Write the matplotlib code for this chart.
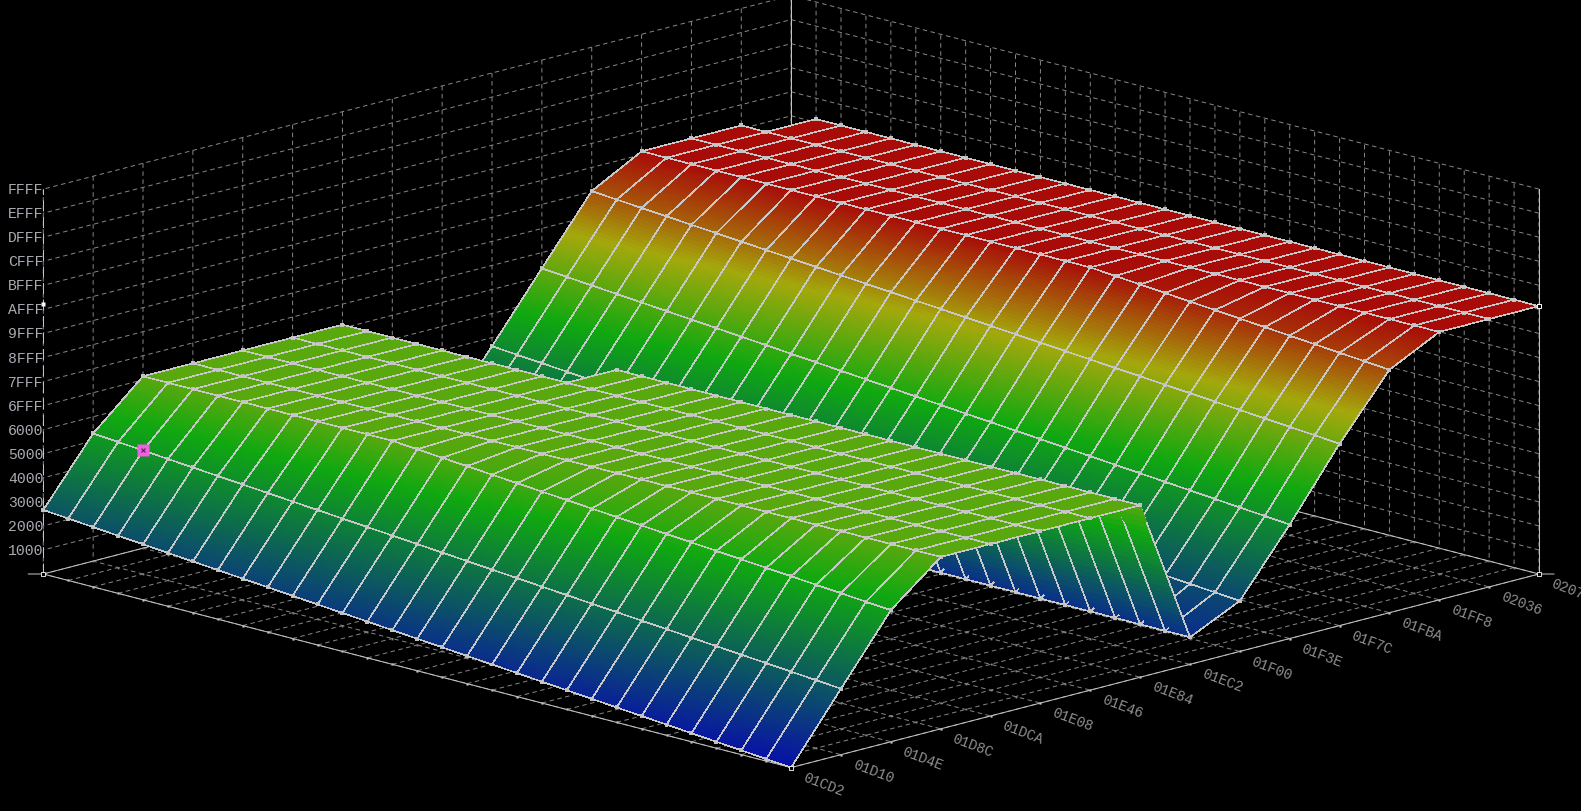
import matplotlib

matplotlib.use("Agg")

import matplotlib.pyplot as plt
import numpy as np
from matplotlib.colors import LinearSegmentedColormap, to_rgba
from mpl_toolkits.mplot3d import proj3d
from mpl_toolkits.mplot3d.art3d import Poly3DCollection

# tick labels
y_labels = ["01CD2", "01D10", "01D4E", "01D8C", "01DCA", "01E08", "01E46", "01E84",
            "01EC2", "01F00", "01F3E", "01F7C", "01FBA", "01FF8", "02036", "02074"]
z_labels = ["1000", "2000", "3000", "4000", "5000", "6000", "6FFF", "7FFF", "8FFF",
            "9FFF", "AFFF", "BFFF", "CFFF", "DFFF", "EFFF", "FFFF"]
z_ticks = [0x1000, 0x2000, 0x3000, 0x4000, 0x5000, 0x6000, 0x6FFF, 0x7FFF, 0x8FFF,
           0x9FFF, 0xAFFF, 0xBFFF, 0xCFFF, 0xDFFF, 0xEFFF, 0xFFFF]

# map values, one row per y label, 31 columns
row_00 = [10900, 10540, 10170, 9810, 9450, 9080, 8720, 8360, 7990, 7630, 7270, 6900, 6540, 6180, 5810, 5450,
          5090, 4720, 4360, 4000, 3630, 3270, 2910, 2540, 2180, 1820, 1450, 1090, 730, 360, 0]
row_01 = [21730, 21380, 21030, 20680, 20330, 19980, 19630, 19280, 18930, 18580, 18230, 17880, 17530, 17180, 16830, 16480,
          16130, 15780, 15430, 15080, 14730, 14380, 14030, 13680, 13330, 12980, 12630, 12280, 11930, 11580, 11230]
row_02 = [29270, 29270, 29270, 29270, 29270, 29270, 29270, 29270, 29270, 29270, 29270, 28930, 28580, 28240, 27900, 27550,
          27210, 26870, 26520, 26180, 25840, 25490, 25150, 24810, 24460, 24120, 23780, 23430, 23090, 22740, 22400]
row_03 = [29270] * 31
row_04 = [29270] * 31
row_05 = [29270] * 31
row_06 = [29270] * 31
row_07 = [5100] * 9 + [29270] * 22
row_08 = [8170, 7810, 7460, 7100, 6740, 6390, 6030, 5670, 5310, 4960] + [4600] * 21
row_09 = [19010, 18660, 18320, 17970, 17620, 17280, 16930, 16580, 16240, 15890, 15540, 15200, 14850, 14500, 14160, 13810,
          13460, 13120, 12770, 12420, 12080, 11730, 11380, 11040, 10690, 10340, 10000, 9650, 9300, 8960, 8610]
row_10 = [30070, 29710, 29360, 29000, 28650, 28290, 27940, 27580, 27230, 26870, 26510, 26160, 25800, 25450, 25090, 24740,
          24380, 24020, 23670, 23310, 22960, 22600, 22250, 21890, 21540, 21180, 20820, 20470, 20110, 19760, 19400]
row_11 = [41020, 40690, 40350, 40020, 39680, 39350, 39010, 38680, 38340, 38010, 37670, 37340, 37000, 36670, 36340, 36000,
          35670, 35330, 35000, 34660, 34330, 33990, 33660, 33320, 32990, 32650, 32320, 31980, 31650, 31310, 30980]
row_12 = [45610] * 19 + [45260, 44900, 44550, 44190, 43840, 43490, 43130, 42780, 42420, 42070, 41710, 41360]
row_13 = [45610] * 31
row_14 = [45610] * 31
row_15 = [23800] + [45610] * 30

cursor_col = 2
cursor_row = 1
max_marker = 45900

BLACK = "#000000"
WIRE = "#c8c8c8"
NODE = "#c0c0c0"
GRID = "#858585"
FRAME = "#c4c4c4"
CLEAR = (0, 0, 0, 0)

X_SUB = 4
Y_SUB = 24

# 1 px to the right on screen, in data units
PX_RIGHT = np.array([0.02016, 0.01, 0.0])
PX_UP = np.array([0.0, 0.0, 170.2])


def z_colormap():
    # blue - green - yellow - red, stops not evenly spaced in the original
    return LinearSegmentedColormap.from_list(
        "ecu_map",
        [(0.0, "#0810a8"), (0.519, "#10a810"), (0.763, "#a4a80c"), (1.0, "#a80808")],
    )


def refine_surface(z_map):
    # finer mesh only so the colour runs smoothly inside each cell
    xf = np.linspace(0, z_map.shape[1] - 1, (z_map.shape[1] - 1) * X_SUB + 1)
    yf = np.linspace(0, z_map.shape[0] - 1, (z_map.shape[0] - 1) * Y_SUB + 1)
    ix = np.minimum(xf.astype(int), z_map.shape[1] - 2)
    iy = np.minimum(yf.astype(int), z_map.shape[0] - 2)
    tx = xf - ix
    ty = (yf - iy)[:, None]
    near = (1 - tx) * z_map[iy][:, ix] + tx * z_map[iy][:, ix + 1]
    far = (1 - tx) * z_map[iy + 1][:, ix] + tx * z_map[iy + 1][:, ix + 1]
    return xf, yf, (1 - ty) * near + ty * far


def build_mesh(z_map):
    """Facets, wire pieces and node squares go in one collection so they get depth sorted together."""
    xf, yf, zf = refine_surface(z_map)
    xg, yg = np.meshgrid(xf, yf)
    pts = np.dstack([xg, yg, zf])

    facets = np.stack([pts[:-1, :-1], pts[:-1, 1:], pts[1:, 1:], pts[1:, :-1]], axis=2).reshape(-1, 4, 3)
    cmap = z_colormap()
    facet_colors = cmap(facets[:, :, 2].mean(axis=1) / max_marker)

    # shift towards the camera, this does not move anything on screen
    wire_shift = np.array([0.6, -0.3, 1322.0])
    node_shift = np.array([0.7, -0.35, 1543.0])

    xg0, yg0 = np.meshgrid(np.arange(z_map.shape[1]), np.arange(z_map.shape[0]))
    grid = np.dstack([xg0, yg0, z_map]) + wire_shift
    wire = []
    a, b = grid[:, :-1].reshape(-1, 3), grid[:, 1:].reshape(-1, 3)
    wire.append(np.stack([a, b, b, a], axis=1))
    a, b = grid[:-1, :].reshape(-1, 3), grid[1:, :].reshape(-1, 3)
    wire.append(np.stack([a, b, b, a], axis=1))
    wire = np.concatenate(wire)

    nodes = np.dstack([xg0, yg0, z_map]).reshape(-1, 3) + node_shift
    right = PX_RIGHT * 1.5
    up = PX_UP * 1.5
    squares = np.stack([nodes - right - up, nodes + right - up, nodes + right + up, nodes - right + up], axis=1)

    verts = np.concatenate([facets, wire, squares])
    face = np.concatenate([
        facet_colors,
        np.zeros((len(wire), 4)),
        np.tile(to_rgba(NODE), (len(squares), 1)),
    ])
    edge = np.concatenate([
        np.zeros((len(facets), 4)),
        np.tile(to_rgba(WIRE), (len(wire), 1)),
        np.zeros((len(squares), 4)),
    ])
    # thin width: the wire quads are stroked out and back, which doubles the coverage
    mesh = Poly3DCollection(verts, facecolors=face, edgecolors=edge, linewidths=0.36,
                            antialiaseds=False, zsort="average", zorder=2)
    mesh.set_clip_on(False)
    return mesh


def screen_px(ax, x, y, z):
    u, v, _ = proj3d.proj_transform(x, y, z, ax.get_proj())
    return ax.transData.transform((u, v))


def fit_axes(fig, ax, x_max, y_max):
    # the cube corners have to land on the corners measured on the reference
    width, height = fig.get_size_inches() * fig.dpi
    target_left = np.array([43.3, height - 575.7])
    target_right = np.array([1539.0, height - 574.3])

    side = 1000.0
    ax.set_position([0, 0, side / width, side / height])
    ax.apply_aspect()
    left = screen_px(ax, 0, 0, 0)
    right = screen_px(ax, x_max, y_max, 0)
    side *= (target_right[0] - target_left[0]) / (right[0] - left[0])

    ax.set_position([0, 0, side / width, side / height])
    ax.apply_aspect()
    left = screen_px(ax, 0, 0, 0)
    right = screen_px(ax, x_max, y_max, 0)
    shift = (target_left + target_right) / 2 - (left + right) / 2
    ax.set_position([shift[0] / width, shift[1] / height, side / width, side / height])
    ax.apply_aspect()


def style_axis(axis):
    axis.set_pane_color(CLEAR)
    axis.pane.set_edgecolor(CLEAR)
    axis.line.set_color(CLEAR)
    axis.set_tick_params(color=CLEAR)
    axis.set_ticklabels([])


def main():
    z_map = np.array([row_00, row_01, row_02, row_03, row_04, row_05, row_06, row_07,
                      row_08, row_09, row_10, row_11, row_12, row_13, row_14, row_15], dtype=float)
    x_max = z_map.shape[1] - 1
    y_max = z_map.shape[0] - 1
    z_max = z_ticks[-1]

    plt.rcParams["grid.color"] = GRID
    plt.rcParams["grid.linestyle"] = (0, (4.5, 3.5))
    plt.rcParams["grid.linewidth"] = 0.72
    plt.rcParams["font.family"] = ["Liberation Mono", "DejaVu Sans Mono"]

    fig = plt.figure(figsize=(15.81, 8.12), dpi=100, facecolor=BLACK)
    ax = fig.add_axes([0, 0, 1, 1], projection="3d", facecolor=BLACK)
    ax.computed_zorder = False
    ax.set_proj_type("ortho")
    ax.view_init(elev=15, azim=-45)
    ax.set_box_aspect((1058, 1058, 398.6))
    ax.set_xlim(0, x_max, view_margin=0)
    ax.set_ylim(0, y_max, view_margin=0)
    ax.set_zlim(0, z_max, view_margin=0)

    ax.set_xticks(np.arange(x_max + 1))
    ax.set_yticks(np.arange(y_max + 1))
    ax.set_zticks(z_ticks)
    for axis in (ax.xaxis, ax.yaxis, ax.zaxis):
        style_axis(axis)
    ax.grid(True)

    fit_axes(fig, ax, x_max, y_max)

    # floor frame and uprights
    frame = dict(color=FRAME, lw=0.72, zorder=1, clip_on=False)
    ax.plot([0, x_max], [0, 0], [0, 0], **frame)
    ax.plot([x_max, x_max], [0, y_max], [0, 0], **frame)
    ax.plot([0, x_max], [y_max, y_max], [0, 0], **frame)
    ax.plot([0, 0], [0, y_max], [0, 0], **frame)
    ax.plot([0, 0], [y_max, y_max], [0, z_max], **frame)
    ax.plot([x_max, x_max], [y_max, y_max], [0, z_max], **frame)
    ax.plot([0, 0], [0, 0], [0, z_max], color=FRAME, lw=0.72, ls=(0, (11, 5.5)), zorder=1, clip_on=False)

    # short stubs sticking out of the left and right floor corners
    stub = PX_RIGHT * 15
    ax.plot([-stub[0], 0], [-stub[1], 0], [0, 0], **frame)
    ax.plot([x_max, x_max + stub[0]], [y_max, y_max + stub[1]], [0, 0], **frame)

    # small dots on the floor crossings and along the two front edges
    floor_x, floor_y = np.meshgrid(np.arange(x_max + 1), np.arange(y_max + 1))
    ax.plot(floor_x.ravel(), floor_y.ravel(), np.zeros(floor_x.size), ls="none",
            marker="s", ms=1.3, mfc=GRID, mec="none", zorder=1, clip_on=False)
    ax.plot(np.arange(x_max + 1), np.zeros(x_max + 1), np.zeros(x_max + 1), ls="none",
            marker="s", ms=1.8, mfc=NODE, mec="none", zorder=1, clip_on=False)
    ax.plot(np.full(y_max + 1, x_max), np.arange(y_max + 1), np.zeros(y_max + 1), ls="none",
            marker="s", ms=1.8, mfc=NODE, mec="none", zorder=1, clip_on=False)

    ax.add_collection3d(build_mesh(z_map), autolim=False)

    # open corner squares, the limit marker and the cursor
    ax.plot([0, x_max, x_max], [0, 0, y_max], [0, 0, 0], ls="none", marker="s", ms=3,
            mfc=BLACK, mec="white", mew=0.6, zorder=3, clip_on=False)
    ax.plot([x_max], [y_max], [z_map[-1, -1]], ls="none", marker="s", ms=3.5,
            mfc=BLACK, mec="white", mew=0.7, zorder=3, clip_on=False)
    ax.plot([0], [0], [max_marker], ls="none", marker="s", ms=3.4, mfc="white", mec="none", zorder=3, clip_on=False)
    ax.plot([cursor_col], [cursor_row], [z_map[cursor_row, cursor_col]], ls="none", marker="s", ms=8.2,
            mfc="#f060e0", mec="none", zorder=4, clip_on=False)
    ax.plot([cursor_col], [cursor_row], [z_map[cursor_row, cursor_col]], ls="none", marker="x", ms=3.2,
            mec="#40304a", mew=0.8, zorder=5, clip_on=False)

    # tick labels as plain figure text, placed from the projected tick position
    width, height = fig.get_size_inches() * fig.dpi
    for row, label in enumerate(y_labels):
        px, py = screen_px(ax, x_max + 1.88, row - 0.3, 0)
        fig.text(px / width, py / height, label, color="#8e8e8e", fontsize=10.3, rotation=-21,
                 rotation_mode="anchor", ha="center", va="center")
    for tick, label in zip(z_ticks, z_labels):
        px, py = screen_px(ax, 0, 0, tick)
        fig.text(px / width, py / height, label, color="#a8acb2", fontsize=10.6, ha="right", va="center")

    fig.savefig("out.png", dpi=100, facecolor=BLACK)
    plt.close(fig)


if __name__ == "__main__":
    main()
